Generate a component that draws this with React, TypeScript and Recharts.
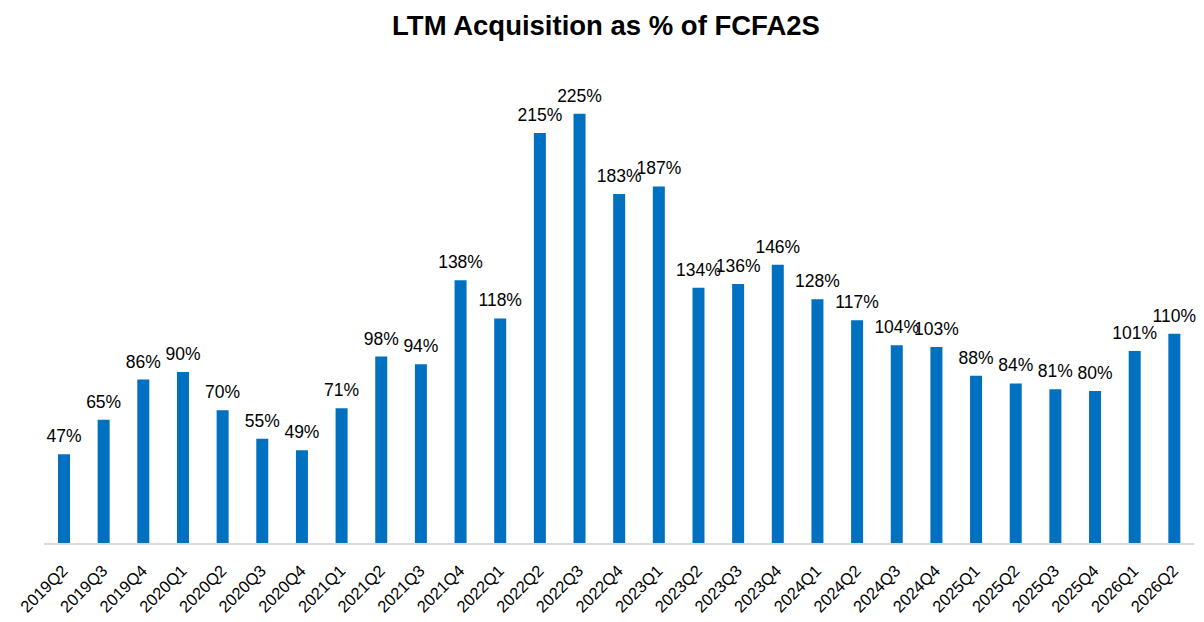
import React from 'react';
import { BarChart, Bar, XAxis, YAxis, LabelList } from 'recharts';

const quarters = [
  '2019Q2', '2019Q3', '2019Q4',
  '2020Q1', '2020Q2', '2020Q3', '2020Q4',
  '2021Q1', '2021Q2', '2021Q3', '2021Q4',
  '2022Q1', '2022Q2', '2022Q3', '2022Q4',
  '2023Q1', '2023Q2', '2023Q3', '2023Q4',
  '2024Q1', '2024Q2', '2024Q3', '2024Q4',
  '2025Q1', '2025Q2', '2025Q3', '2025Q4',
  '2026Q1', '2026Q2',
];

const acquisitionPct = [
  47, 65, 86,
  90, 70, 55, 49,
  71, 98, 94, 138,
  118, 215, 225, 183,
  187, 134, 136, 146,
  128, 117, 104, 103,
  88, 84, 81, 80,
  101, 110,
];

const data = quarters.map((q, i) => ({ quarter: q, value: acquisitionPct[i] }));

const font = 'Liberation Sans, Arial, sans-serif';

function QuarterTick(props: any) {
  const { x, y, payload } = props;
  const ax = x + 5;
  const ay = y + 28;
  return (
    <text
      x={ax}
      y={ay}
      transform={`rotate(-45, ${ax}, ${ay})`}
      textAnchor="end"
      fontFamily={font}
      fontSize={16.5}
      fill="#000"
    >
      {payload.value}
    </text>
  );
}

function App() {
  return (
    <div style={{ position: 'absolute', left: 0, top: 0, width: 1204, height: 622, background: '#fff' }}>
      <div
        style={{
          position: 'absolute',
          left: 0,
          width: 1212,
          top: 10,
          textAlign: 'center',
          fontFamily: font,
          fontWeight: 'bold',
          fontSize: 27.5,
          lineHeight: '32px',
          color: '#000',
        }}
      >
        LTM Acquisition as % of FCFA2S
      </div>
      <BarChart
        width={1204}
        height={622}
        data={data}
        margin={{ top: 66, right: 10, bottom: 0, left: 44 }}
        barCategoryGap={0}
      >
        <YAxis hide domain={[0, 250]} />
        <XAxis
          dataKey="quarter"
          interval={0}
          height={78}
          tickLine={false}
          tickSize={0}
          tickMargin={0}
          axisLine={{ stroke: '#D9D9D9', strokeWidth: 2 }}
          tick={<QuarterTick />}
        />
        <Bar dataKey="value" fill="#0070C0" barSize={12} isAnimationActive={false}>
          <LabelList
            dataKey="value"
            position="top"
            offset={12}
            formatter={(v: any) => `${v}%`}
            style={{ fontFamily: font, fontSize: 17.5, fill: '#000' }}
          />
        </Bar>
      </BarChart>
    </div>
  );
}

export default App;
